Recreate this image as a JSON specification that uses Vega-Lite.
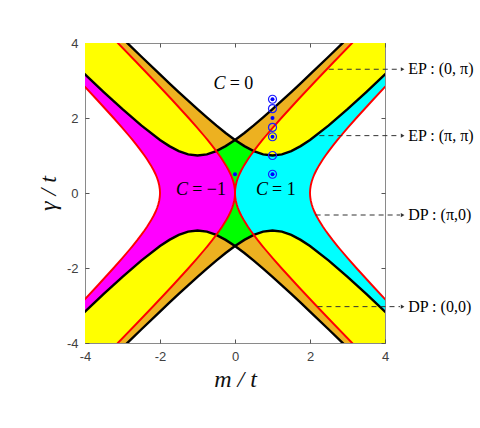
{
"$schema": "https://vega.github.io/schema/vega-lite/v6.json",
"width": 300, "height": 300,
"autosize": {"type": "none"},
"padding": {"left": 85, "top": 43, "right": 95, "bottom": 85},
"background": "white",
"config": {
  "view": {"stroke": "#8a8a8a", "strokeWidth": 1},
  "axis": {"domain": false, "grid": false, "tickSize": -4, "tickColor": "#555555", "tickWidth": 1, "labelFont": "Liberation Sans", "labelFontSize": 13, "labelColor": "#404040", "labelPadding": 11, "labelFlush": false, "labelOverlap": false, "titleFont": "Liberation Serif", "titleFontSize": 24, "titleFontStyle": "italic", "titleFontWeight": "normal", "titleColor": "#111111"}
},
"datasets": {
  "red": [
    {"g": -4.3, "oL": -5.4148, "iL": -3.4148, "iR": 3.4148, "oR": 5.4148},
    {"g": -4, "oL": -5.1231, "iL": -3.1231, "iR": 3.1231, "oR": 5.1231},
    {"g": -3.5, "oL": -4.6401, "iL": -2.6401, "iR": 2.6401, "oR": 4.6401},
    {"g": -3, "oL": -4.1623, "iL": -2.1623, "iR": 2.1623, "oR": 4.1623},
    {"g": -2.5, "oL": -3.6926, "iL": -1.6926, "iR": 1.6926, "oR": 3.6926},
    {"g": -2, "oL": -3.2361, "iL": -1.2361, "iR": 1.2361, "oR": 3.2361},
    {"g": -1.75, "oL": -3.0156, "iL": -1.0156, "iR": 1.0156, "oR": 3.0156},
    {"g": -1.5, "oL": -2.8028, "iL": -0.8028, "iR": 0.8028, "oR": 2.8028},
    {"g": -1.4142, "oL": -2.7321, "iL": -0.7321, "iR": 0.7321, "oR": 2.7321},
    {"g": -1.25, "oL": -2.6008, "iL": -0.6008, "iR": 0.6008, "oR": 2.6008},
    {"g": -1.118, "oL": -2.5, "iL": -0.5, "iR": 0.5, "oR": 2.5},
    {"g": -1, "oL": -2.4142, "iL": -0.4142, "iR": 0.4142, "oR": 2.4142},
    {"g": -0.9, "oL": -2.3454, "iL": -0.3454, "iR": 0.3454, "oR": 2.3454},
    {"g": -0.75, "oL": -2.25, "iL": -0.25, "iR": 0.25, "oR": 2.25},
    {"g": -0.6, "oL": -2.1662, "iL": -0.1662, "iR": 0.1662, "oR": 2.1662},
    {"g": -0.5, "oL": -2.118, "iL": -0.118, "iR": 0.118, "oR": 2.118},
    {"g": -0.4, "oL": -2.077, "iL": -0.077, "iR": 0.077, "oR": 2.077},
    {"g": -0.3, "oL": -2.044, "iL": -0.044, "iR": 0.044, "oR": 2.044},
    {"g": -0.2, "oL": -2.0198, "iL": -0.0198, "iR": 0.0198, "oR": 2.0198},
    {"g": -0.1, "oL": -2.005, "iL": -0.005, "iR": 0.005, "oR": 2.005},
    {"g": 0, "oL": -2, "iL": 0, "iR": 0, "oR": 2},
    {"g": 0.1, "oL": -2.005, "iL": -0.005, "iR": 0.005, "oR": 2.005},
    {"g": 0.2, "oL": -2.0198, "iL": -0.0198, "iR": 0.0198, "oR": 2.0198},
    {"g": 0.3, "oL": -2.044, "iL": -0.044, "iR": 0.044, "oR": 2.044},
    {"g": 0.4, "oL": -2.077, "iL": -0.077, "iR": 0.077, "oR": 2.077},
    {"g": 0.5, "oL": -2.118, "iL": -0.118, "iR": 0.118, "oR": 2.118},
    {"g": 0.6, "oL": -2.1662, "iL": -0.1662, "iR": 0.1662, "oR": 2.1662},
    {"g": 0.75, "oL": -2.25, "iL": -0.25, "iR": 0.25, "oR": 2.25},
    {"g": 0.9, "oL": -2.3454, "iL": -0.3454, "iR": 0.3454, "oR": 2.3454},
    {"g": 1, "oL": -2.4142, "iL": -0.4142, "iR": 0.4142, "oR": 2.4142},
    {"g": 1.118, "oL": -2.5, "iL": -0.5, "iR": 0.5, "oR": 2.5},
    {"g": 1.25, "oL": -2.6008, "iL": -0.6008, "iR": 0.6008, "oR": 2.6008},
    {"g": 1.4142, "oL": -2.7321, "iL": -0.7321, "iR": 0.7321, "oR": 2.7321},
    {"g": 1.5, "oL": -2.8028, "iL": -0.8028, "iR": 0.8028, "oR": 2.8028},
    {"g": 1.75, "oL": -3.0156, "iL": -1.0156, "iR": 1.0156, "oR": 3.0156},
    {"g": 2, "oL": -3.2361, "iL": -1.2361, "iR": 1.2361, "oR": 3.2361},
    {"g": 2.5, "oL": -3.6926, "iL": -1.6926, "iR": 1.6926, "oR": 3.6926},
    {"g": 3, "oL": -4.1623, "iL": -2.1623, "iR": 2.1623, "oR": 4.1623},
    {"g": 3.5, "oL": -4.6401, "iL": -2.6401, "iR": 2.6401, "oR": 4.6401},
    {"g": 4, "oL": -5.1231, "iL": -3.1231, "iR": 3.1231, "oR": 5.1231},
    {"g": 4.3, "oL": -5.4148, "iL": -3.4148, "iR": 3.4148, "oR": 5.4148}
  ],
  "bands": [
    {"m": -4.5, "b1": 3.6401, "b2": 5.5902, "n1": -3.6401, "n2": -5.5902},
    {"m": -4, "b1": 3.1623, "b2": 5.099, "n1": -3.1623, "n2": -5.099},
    {"m": -3.5, "b1": 2.6926, "b2": 4.6098, "n1": -2.6926, "n2": -4.6098},
    {"m": -3, "b1": 2.2361, "b2": 4.1231, "n1": -2.2361, "n2": -4.1231},
    {"m": -2.5, "b1": 1.8028, "b2": 3.6401, "n1": -1.8028, "n2": -3.6401},
    {"m": -2, "b1": 1.4142, "b2": 3.1623, "n1": -1.4142, "n2": -3.1623},
    {"m": -1.75, "b1": 1.25, "b2": 2.9262, "n1": -1.25, "n2": -2.9262},
    {"m": -1.5, "b1": 1.118, "b2": 2.6926, "n1": -1.118, "n2": -2.6926},
    {"m": -1.25, "b1": 1.0308, "b2": 2.4622, "n1": -1.0308, "n2": -2.4622},
    {"m": -1, "b1": 1, "b2": 2.2361, "n1": -1, "n2": -2.2361},
    {"m": -0.75, "b1": 1.0308, "b2": 2.0156, "n1": -1.0308, "n2": -2.0156},
    {"m": -0.5, "b1": 1.118, "b2": 1.8028, "n1": -1.118, "n2": -1.8028},
    {"m": -0.25, "b1": 1.25, "b2": 1.6008, "n1": -1.25, "n2": -1.6008},
    {"m": 0, "b1": 1.4142, "b2": 1.4142, "n1": -1.4142, "n2": -1.4142},
    {"m": 0.25, "b1": 1.6008, "b2": 1.25, "n1": -1.6008, "n2": -1.25},
    {"m": 0.5, "b1": 1.8028, "b2": 1.118, "n1": -1.8028, "n2": -1.118},
    {"m": 0.75, "b1": 2.0156, "b2": 1.0308, "n1": -2.0156, "n2": -1.0308},
    {"m": 1, "b1": 2.2361, "b2": 1, "n1": -2.2361, "n2": -1},
    {"m": 1.25, "b1": 2.4622, "b2": 1.0308, "n1": -2.4622, "n2": -1.0308},
    {"m": 1.5, "b1": 2.6926, "b2": 1.118, "n1": -2.6926, "n2": -1.118},
    {"m": 1.75, "b1": 2.9262, "b2": 1.25, "n1": -2.9262, "n2": -1.25},
    {"m": 2, "b1": 3.1623, "b2": 1.4142, "n1": -3.1623, "n2": -1.4142},
    {"m": 2.5, "b1": 3.6401, "b2": 1.8028, "n1": -3.6401, "n2": -1.8028},
    {"m": 3, "b1": 4.1231, "b2": 2.2361, "n1": -4.1231, "n2": -2.2361},
    {"m": 3.5, "b1": 4.6098, "b2": 2.6926, "n1": -4.6098, "n2": -2.6926},
    {"m": 4, "b1": 5.099, "b2": 3.1623, "n1": -5.099, "n2": -3.1623},
    {"m": 4.5, "b1": 5.5902, "b2": 3.6401, "n1": -5.5902, "n2": -3.6401}
  ],
  "yel": [
    {"q": "UL", "m": -4.5, "a": 3.6401, "b": 5.4083},
    {"q": "UL", "m": -4, "a": 3.1623, "b": 4.899},
    {"q": "UL", "m": -3.5, "a": 2.6926, "b": 4.3875},
    {"q": "UL", "m": -3, "a": 2.2361, "b": 3.873},
    {"q": "UL", "m": -2.5, "a": 1.8028, "b": 3.3541},
    {"q": "UL", "m": -2, "a": 1.4142, "b": 2.8284},
    {"q": "UL", "m": -1.75, "a": 1.25, "b": 2.5617},
    {"q": "UL", "m": -1.5, "a": 1.118, "b": 2.2913},
    {"q": "UL", "m": -1.25, "a": 1.0308, "b": 2.0156},
    {"q": "UL", "m": -1, "a": 1, "b": 1.7321},
    {"q": "UL", "m": -0.75, "a": 1.0308, "b": 1.4361},
    {"q": "UL", "m": -0.6, "a": 1.077, "b": 1.249},
    {"q": "UL", "m": -0.55, "a": 1.0966, "b": 1.1843},
    {"q": "UL", "m": -0.5, "a": 1.118, "b": 1.118},
    {"q": "UR", "m": 0.5, "a": 1.118, "b": 1.118},
    {"q": "UR", "m": 0.55, "a": 1.0966, "b": 1.1843},
    {"q": "UR", "m": 0.6, "a": 1.077, "b": 1.249},
    {"q": "UR", "m": 0.75, "a": 1.0308, "b": 1.4361},
    {"q": "UR", "m": 1, "a": 1, "b": 1.7321},
    {"q": "UR", "m": 1.25, "a": 1.0308, "b": 2.0156},
    {"q": "UR", "m": 1.5, "a": 1.118, "b": 2.2913},
    {"q": "UR", "m": 1.75, "a": 1.25, "b": 2.5617},
    {"q": "UR", "m": 2, "a": 1.4142, "b": 2.8284},
    {"q": "UR", "m": 2.5, "a": 1.8028, "b": 3.3541},
    {"q": "UR", "m": 3, "a": 2.2361, "b": 3.873},
    {"q": "UR", "m": 3.5, "a": 2.6926, "b": 4.3875},
    {"q": "UR", "m": 4, "a": 3.1623, "b": 4.899},
    {"q": "UR", "m": 4.5, "a": 3.6401, "b": 5.4083},
    {"q": "LL", "m": -4.5, "a": -3.6401, "b": -5.4083},
    {"q": "LL", "m": -4, "a": -3.1623, "b": -4.899},
    {"q": "LL", "m": -3.5, "a": -2.6926, "b": -4.3875},
    {"q": "LL", "m": -3, "a": -2.2361, "b": -3.873},
    {"q": "LL", "m": -2.5, "a": -1.8028, "b": -3.3541},
    {"q": "LL", "m": -2, "a": -1.4142, "b": -2.8284},
    {"q": "LL", "m": -1.75, "a": -1.25, "b": -2.5617},
    {"q": "LL", "m": -1.5, "a": -1.118, "b": -2.2913},
    {"q": "LL", "m": -1.25, "a": -1.0308, "b": -2.0156},
    {"q": "LL", "m": -1, "a": -1, "b": -1.7321},
    {"q": "LL", "m": -0.75, "a": -1.0308, "b": -1.4361},
    {"q": "LL", "m": -0.6, "a": -1.077, "b": -1.249},
    {"q": "LL", "m": -0.55, "a": -1.0966, "b": -1.1843},
    {"q": "LL", "m": -0.5, "a": -1.118, "b": -1.118},
    {"q": "LR", "m": 0.5, "a": -1.118, "b": -1.118},
    {"q": "LR", "m": 0.55, "a": -1.0966, "b": -1.1843},
    {"q": "LR", "m": 0.6, "a": -1.077, "b": -1.249},
    {"q": "LR", "m": 0.75, "a": -1.0308, "b": -1.4361},
    {"q": "LR", "m": 1, "a": -1, "b": -1.7321},
    {"q": "LR", "m": 1.25, "a": -1.0308, "b": -2.0156},
    {"q": "LR", "m": 1.5, "a": -1.118, "b": -2.2913},
    {"q": "LR", "m": 1.75, "a": -1.25, "b": -2.5617},
    {"q": "LR", "m": 2, "a": -1.4142, "b": -2.8284},
    {"q": "LR", "m": 2.5, "a": -1.8028, "b": -3.3541},
    {"q": "LR", "m": 3, "a": -2.2361, "b": -3.873},
    {"q": "LR", "m": 3.5, "a": -2.6926, "b": -4.3875},
    {"q": "LR", "m": 4, "a": -3.1623, "b": -4.899},
    {"q": "LR", "m": 4.5, "a": -3.6401, "b": -5.4083}
  ],
  "ann": [
    {"g": 3.3, "x0": 2.5, "x1": 4.4, "xa": 4.47, "xl": 4.62, "lab": "EP : (0, π)"},
    {"g": 1.53, "x0": 2.25, "x1": 4.4, "xa": 4.47, "xl": 4.62, "lab": "EP : (π, π)"},
    {"g": -0.587, "x0": 2.15, "x1": 4.4, "xa": 4.47, "xl": 4.62, "lab": "DP : (π,0)"},
    {"g": -3.03, "x0": 2.2, "x1": 4.4, "xa": 4.47, "xl": 4.62, "lab": "DP : (0,0)"}
  ],
  "mk": [
    {"m": 1, "g": 2.5, "t": "both"},
    {"m": 1, "g": 2.25, "t": "ring"},
    {"m": 1, "g": 2, "t": "dot"},
    {"m": 1, "g": 1.75, "t": "ring"},
    {"m": 1, "g": 1.5, "t": "both"},
    {"m": 1, "g": 1, "t": "ring"},
    {"m": 1, "g": 0.5, "t": "both"},
    {"m": 0, "g": 0.5, "t": "dot"}
  ],
  "cl": [
    {"m": -0.25, "g": 2.91, "rest": "= 0"},
    {"m": -1.25, "g": 0.08, "rest": "= −1"},
    {"m": 0.88, "g": 0.08, "rest": "= 1"}
  ]
},
"layer": [
    {"data": {"name": "red"}, "mark": {"type": "area", "orient": "horizontal", "color": "#ff00ff", "clip": true},
     "encoding": {
       "y": {"field": "g", "type": "quantitative", "scale": {"domain": [-4, 4]}, "axis": {"orient": "left", "values": [-4, -2, 0, 2, 4], "title": "γ / t", "labelExpr": "'' + datum.value", "titlePadding": 6}},
       "x": {"field": "oL", "type": "quantitative", "scale": {"domain": [-4, 4]}, "axis": {"orient": "bottom", "values": [-4, -2, 0, 2, 4], "title": "m / t", "labelExpr": "'' + datum.value", "titlePadding": 4}},
       "x2": {"field": "iL"}}},
    {"data": {"name": "red"}, "mark": {"type": "area", "orient": "horizontal", "color": "#00ffff", "clip": true},
     "encoding": {
       "y": {"field": "g", "type": "quantitative", "scale": {"domain": [-4, 4]}, "axis": null},
       "x": {"field": "iR", "type": "quantitative", "scale": {"domain": [-4, 4]}, "axis": null},
       "x2": {"field": "oR"}}},
    {"data": {"name": "red"}, "transform": [{"filter": "abs(datum.g) <= 1.4143"}], "mark": {"type": "area", "orient": "horizontal", "color": "#00ff00", "clip": true},
     "encoding": {
       "y": {"field": "g", "type": "quantitative", "scale": {"domain": [-4, 4]}, "axis": null},
       "x": {"field": "iL", "type": "quantitative", "scale": {"domain": [-4, 4]}, "axis": null},
       "x2": {"field": "iR"}}},
    {"data": {"name": "bands"}, "mark": {"type": "area", "color": "#EDB120", "clip": true},
     "encoding": {
       "x": {"field": "m", "type": "quantitative", "scale": {"domain": [-4, 4]}, "axis": null},
       "y": {"field": "b1", "type": "quantitative", "scale": {"domain": [-4, 4]}, "axis": null},
       "y2": {"field": "b2"}}},
    {"data": {"name": "bands"}, "mark": {"type": "area", "color": "#EDB120", "clip": true},
     "encoding": {
       "x": {"field": "m", "type": "quantitative", "scale": {"domain": [-4, 4]}, "axis": null},
       "y": {"field": "n1", "type": "quantitative", "scale": {"domain": [-4, 4]}, "axis": null},
       "y2": {"field": "n2"}}},
    {"data": {"name": "yel"}, "mark": {"type": "area", "color": "#ffff00", "clip": true},
     "encoding": {
       "x": {"field": "m", "type": "quantitative", "scale": {"domain": [-4, 4]}, "axis": null},
       "y": {"field": "a", "type": "quantitative", "scale": {"domain": [-4, 4]}, "axis": null},
       "y2": {"field": "b"},
       "detail": {"field": "q"}}},
    {"data": {"name": "bands"}, "transform": [{"fold": ["b1", "b2", "n1", "n2"], "as": ["k", "v"]}],
     "mark": {"type": "line", "color": "#000000", "strokeWidth": 2.4, "clip": true},
     "encoding": {
       "x": {"field": "m", "type": "quantitative", "scale": {"domain": [-4, 4]}, "axis": null},
       "y": {"field": "v", "type": "quantitative", "scale": {"domain": [-4, 4]}, "axis": null},
       "detail": {"field": "k"}}},
    {"data": {"name": "red"}, "transform": [{"fold": ["oL", "iL", "iR", "oR"], "as": ["k", "v"]}],
     "mark": {"type": "line", "color": "#ff0000", "strokeWidth": 1.9, "clip": true},
     "encoding": {
       "x": {"field": "v", "type": "quantitative", "scale": {"domain": [-4, 4]}, "axis": null},
       "y": {"field": "g", "type": "quantitative", "scale": {"domain": [-4, 4]}, "axis": null},
       "detail": {"field": "k"},
       "order": {"field": "g", "type": "quantitative"}}},
    {"data": {"name": "ann"}, "mark": {"type": "rule", "color": "#333333", "strokeWidth": 1, "strokeDash": [5, 4]},
     "encoding": {
       "x": {"field": "x0", "type": "quantitative", "scale": {"domain": [-4, 4]}, "axis": null},
       "x2": {"field": "x1"},
       "y": {"field": "g", "type": "quantitative", "scale": {"domain": [-4, 4]}, "axis": null}}},
    {"data": {"name": "ann"}, "mark": {"type": "point", "shape": "triangle-right", "filled": true, "color": "#333333", "opacity": 1, "size": 18},
     "encoding": {
       "x": {"field": "xa", "type": "quantitative", "scale": {"domain": [-4, 4]}, "axis": null},
       "y": {"field": "g", "type": "quantitative", "scale": {"domain": [-4, 4]}, "axis": null}}},
    {"data": {"name": "ann"}, "mark": {"type": "text", "align": "left", "baseline": "middle", "font": "Liberation Serif", "fontSize": 16, "color": "#000000"},
     "encoding": {
       "x": {"field": "xl", "type": "quantitative", "scale": {"domain": [-4, 4]}, "axis": null},
       "y": {"field": "g", "type": "quantitative", "scale": {"domain": [-4, 4]}, "axis": null},
       "text": {"field": "lab"}}},
    {"data": {"name": "mk"}, "transform": [{"filter": "datum.t != 'dot'"}], "mark": {"type": "point", "shape": "circle", "filled": false, "color": "#1a1aff", "strokeWidth": 1.2, "opacity": 1, "size": 64},
     "encoding": {
       "x": {"field": "m", "type": "quantitative", "scale": {"domain": [-4, 4]}, "axis": null},
       "y": {"field": "g", "type": "quantitative", "scale": {"domain": [-4, 4]}, "axis": null}}},
    {"data": {"name": "mk"}, "transform": [{"filter": "datum.t != 'ring'"}], "mark": {"type": "point", "shape": "circle", "filled": true, "color": "#0000ff", "opacity": 1, "size": 16},
     "encoding": {
       "x": {"field": "m", "type": "quantitative", "scale": {"domain": [-4, 4]}, "axis": null},
       "y": {"field": "g", "type": "quantitative", "scale": {"domain": [-4, 4]}, "axis": null}}},
    {"data": {"name": "cl"}, "mark": {"type": "text", "text": "C", "align": "right", "baseline": "middle", "font": "Liberation Serif", "fontStyle": "italic", "fontSize": 18, "color": "#000000"},
     "encoding": {
       "x": {"field": "m", "type": "quantitative", "scale": {"domain": [-4, 4]}, "axis": null},
       "y": {"field": "g", "type": "quantitative", "scale": {"domain": [-4, 4]}, "axis": null}}},
    {"data": {"name": "cl"}, "mark": {"type": "text", "align": "left", "baseline": "middle", "dx": 4, "font": "Liberation Serif", "fontSize": 18, "color": "#000000"},
     "encoding": {
       "x": {"field": "m", "type": "quantitative", "scale": {"domain": [-4, 4]}, "axis": null},
       "y": {"field": "g", "type": "quantitative", "scale": {"domain": [-4, 4]}, "axis": null},
       "text": {"field": "rest"}}},
    {"data": {"name": "mk"}, "mark": {"type": "point", "opacity": 0},
     "encoding": {
       "x": {"field": "m", "type": "quantitative", "scale": {"domain": [-4, 4]}, "axis": {"orient": "top", "values": [-4, -2, 0, 2, 4], "labels": false, "title": null}},
       "y": {"field": "g", "type": "quantitative", "scale": {"domain": [-4, 4]}, "axis": {"orient": "right", "values": [-4, -2, 0, 2, 4], "labels": false, "title": null}}}}
],
"resolve": {"axis": {"x": "independent", "y": "independent"}}
}
